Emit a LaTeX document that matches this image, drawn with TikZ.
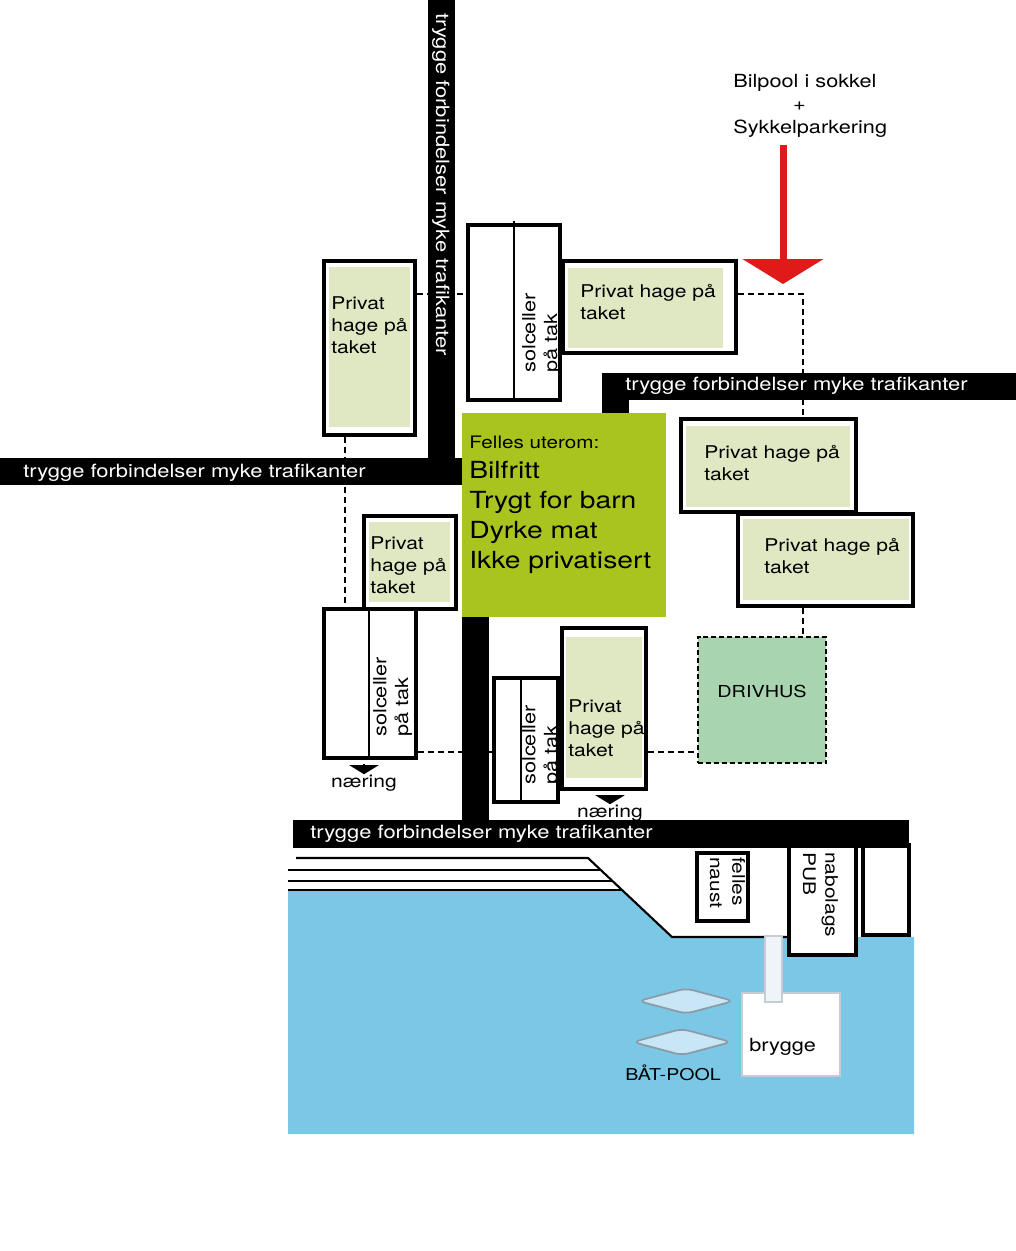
\documentclass[tikz,border=0pt]{standalone}
\usepackage{fontspec}
\setmainfont{TeX Gyre Heros}[FakeStretch=1.2]
\usetikzlibrary{arrows.meta,positioning,calc,fit,shapes.geometric}
\definecolor{Hage}{HTML}{E0E8C3}
\definecolor{Felles}{HTML}{A9C41E}
\definecolor{Drivhus}{HTML}{A9D4B0}
\definecolor{Sjo}{HTML}{7AC8E6}
\definecolor{Baat}{HTML}{C8E6F5}
\definecolor{BaatKant}{HTML}{8C9BA5}
\definecolor{Pil}{HTML}{E01919}
\definecolor{Brygge}{HTML}{C4CDD2}
\definecolor{Pir}{HTML}{EEF4F8}
\pgfdeclarelayer{bg}
\pgfsetlayers{bg,main}
\tikzset{
  hus/.style={draw=black,fill=white,line width=2.3pt,inner sep=0pt},
  hage/.style={fill=Hage,inner sep=0pt},
  felt/.style={fill=Felles,inner sep=0pt},
  drivhus/.style={draw=black,fill=Drivhus,line width=.9pt,dash pattern=on 2.8pt off 1.7pt,inner sep=0pt},
  skille/.style={draw=black,line width=1.1pt},
  vei/.style={fill=black},
  strand/.style={draw=black,line width=1.2pt},
  veitekst/.style={text=white,inner sep=0pt,anchor=base west,font=\fontsize{10.4}{12}\selectfont},
  tekst/.style={inner sep=0pt,align=left,anchor=base west,font=\fontsize{10}{12.5}\selectfont},
  soltekst/.style={tekst,rotate=90,font=\fontsize{10.3}{12.3}\selectfont},
  husnavn/.style={tekst,rotate=-90,font=\fontsize{9.9}{12.8}\selectfont},
  sti/.style={draw=black,line width=1.1pt,dash pattern=on 3.4pt off 2.3pt},
  innkjoring/.style={-{Triangle[width=1.6cm,length=.5cm]},draw=Pil,line width=.14cm},
  naerpil/.style={-{Triangle[width=.58cm,length=.18cm]},line width=1.1pt,shorten <=.08cm},
  baat/.style={diamond,draw=BaatKant,fill=Baat,line width=1pt,rounded corners=4pt,inner sep=0pt},
  pir/.style={draw=Brygge,fill=Pir,line width=.6pt,inner sep=0pt},
  brygge/.style={draw=Brygge,fill=white,line width=.6pt,inner sep=0pt}
}
\begin{document}
\begin{tikzpicture}[x=.02cm,y=-.02cm]
  \useasboundingbox (0,0) rectangle (1016,1251);
  \coordinate (tverrN) at (0,294);
  \coordinate (tverrS) at (0,752);
  \coordinate (stiO) at (803,0);
  \coordinate (stiV) at (345,0);
  \coordinate (pilspiss) at (783,284);

  \fill[Sjo] (288,890) -- (622,890) -- (672,937) -- (914,937) -- (914,1134) -- (288,1134) -- cycle;
  \draw[strand] (296,858) -- (588,858) -- (672,937) -- (789,937);
  \draw[strand] (288,870) -- (601,870);
  \draw[strand] (288,881) -- (612,881);
  \draw[strand] (288,890) -- (622,890);

  \node[hus,fit={(324,261) (415,435)}] (hageA) {};
  \node[hage,fit={(329,267) (410,427)}] (hageAgront) {};
  \node[tekst] (hageAtekst) at (331,353) {Privat\\hage på\\taket};

  \node[hus,fit={(468,225) (560,400)}] (solA) {};
  \draw[skille] (514,221) -- (514,400);
  \node[soltekst] (solAtekst) at (557,373) {solceller\\på tak};

  \node[hus,fit={(563,261) (736,353)}] (hageB) {};
  \node[hage,fit={(568,268) (723,348)}] (hageBgront) {};
  \node[tekst] (hageBtekst) at (580,319) {Privat hage på\\taket};

  \node[hus,fit={(681,419) (856,512)}] (hageC) {};
  \node[hage,fit={(686,426) (850,507)}] (hageCgront) {};
  \node[tekst] (hageCtekst) at (704,480) {Privat hage på\\taket};

  \node[hus,fit={(738,514) (913,606)}] (hageD) {};
  \node[hage,fit={(743,519) (909,600)}] (hageDgront) {};
  \node[tekst] (hageDtekst) at (764,573) {Privat hage på\\taket};

  \node[felt,fit={(462,413) (666,617)}] (felles) {};
  \node[tekst,font=\fontsize{9.8}{12}\selectfont] (fellesTittel) at (469,448) {Felles uterom:};
  \node[tekst,font=\fontsize{13.4}{17}\selectfont] (fellesTekst) at (469,568) {Bilfritt\\Trygt for barn\\Dyrke mat\\Ikke privatisert};

  \node[hus,fit={(364,516) (456,609)}] (hageF) {};
  \node[hage,fit={(369,522) (450,602)}] (hageFgront) {};
  \node[tekst] (hageFtekst) at (370,593) {Privat\\hage på\\taket};

  \node[hus,fit={(324,609) (416,758)}] (solB) {};
  \draw[skille] (369,609) -- (369,758);
  \node[soltekst] (solBtekst) at (408,737) {solceller\\på tak};

  \node[hus,fit={(494,678) (558,802)}] (solC) {};
  \draw[skille] (521,678) -- (521,802);
  \node[soltekst] (solCtekst) at (557,785) {solceller\\på tak};

  \node[hus,fit={(562,628) (646,789)}] (hageE) {};
  \node[hage,fit={(566,637) (642,778)}] (hageEgront) {};
  \node[tekst] (hageEtekst) at (568,756) {Privat\\hage på\\taket};

  \node[drivhus,fit={(698,637) (826,763)}] (drivhus) {};
  \node[tekst,anchor=base,font=\fontsize{9.4}{11}\selectfont] (drivhustekst) at (762,697) {DRIVHUS};

  \node[tekst,anchor=base] (naerA) at (364,787) {næring};
  \node[tekst,anchor=base] (naerB) at (610,817) {næring};
  \draw[naerpil] (solB.south -| naerA.north) -- (naerA.north);
  \draw[naerpil] (hageE.south -| naerB.north) -- (naerB.north);

  \node[hus,line width=2pt,fit={(697,853) (748,921)}] (naust) {};
  \node[husnavn] (nausttekst) at (710,857) {felles\\naust};
  \node[hus,fit={(789,845) (856,955)}] (pub) {};
  \node[husnavn] (pubtekst) at (803,852) {nabolags\\PUB};
  \node[hus,fit={(863,845) (909,935)}] (hjornehus) {};

  \node[brygge,fit={(742,993) (840,1076)}] (brygge) {};
  \node[pir,fit={(765,936) (782,1002)}] (pir) {};
  \node[tekst,font=\fontsize{10.3}{12}\selectfont] (bryggetekst) at (749,1051) {brygge};
  \node[baat,minimum width=1.92cm,minimum height=.52cm] (baat1) at (686,1001) {};
  \node[baat,minimum width=1.98cm,minimum height=.54cm] (baat2) at (682,1042) {};
  \node[tekst,anchor=base,font=\fontsize{9.3}{11}\selectfont] (baatpool) at (673,1080) {BÅT-POOL};

  \fill[vei] (428,0) rectangle (455,485);
  \fill[vei] (0,458) rectangle (462,485);
  \fill[vei] (602,373) rectangle (1016,400);
  \fill[vei] (602,373) rectangle (629,413);
  \fill[vei] (462,617) rectangle (489,848);
  \fill[vei] (293,820) rectangle (909,848);
  \node[veitekst,rotate=-90] (veiNtekst) at (436,13) {trygge forbindelser myke trafikanter};
  \node[veitekst] (veiVtekst) at (23,477) {trygge forbindelser myke trafikanter};
  \node[veitekst] (veiOtekst) at (625,390) {trygge forbindelser myke trafikanter};
  \node[veitekst] (veiStekst) at (310,838) {trygge forbindelser myke trafikanter};

  \node[tekst,font=\fontsize{10.3}{13}\selectfont] (bilpool) at (733,133) {Bilpool i sokkel\\\hspace*{34pt}+\\Sykkelparkering};
  \draw[innkjoring,shorten <=.16cm] (bilpool.south -| pilspiss) -- (pilspiss);

  \begin{pgfonlayer}{bg}
    \draw[sti] (hageA.east |- tverrN) -- (solA.west |- tverrN);
    \draw[sti] (hageB.east |- tverrN) -| (hageC.north -| stiO);
    \draw[sti] (hageD.south -| stiO) -- (drivhus.north -| stiO);
    \draw[sti] (hageA.south -| stiV) -- (solB.north -| stiV);
    \draw[sti] (solB.east |- tverrS) -- (drivhus.west |- tverrS);
  \end{pgfonlayer}
\end{tikzpicture}
\end{document}
